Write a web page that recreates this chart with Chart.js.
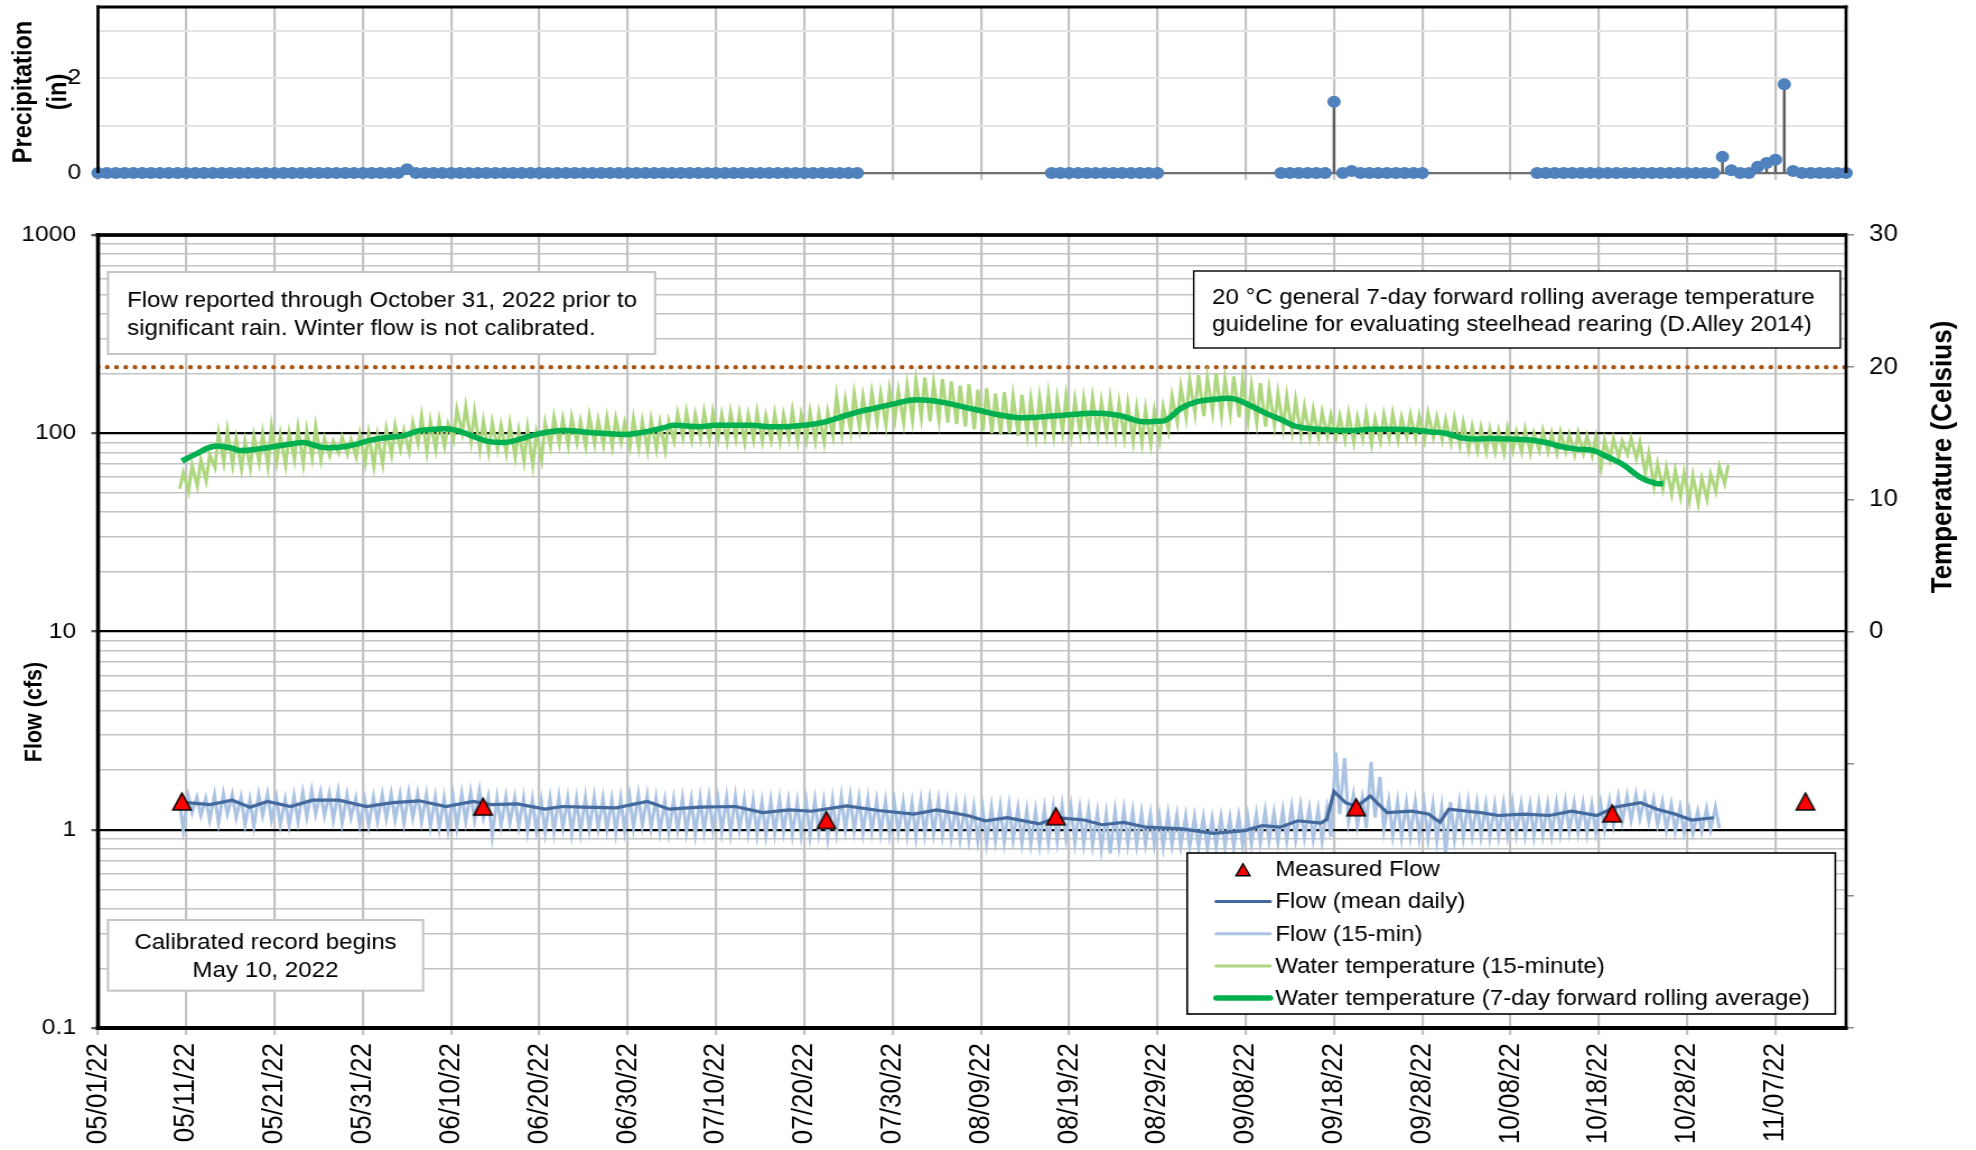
<!DOCTYPE html>
<html>
<head>
<meta charset="utf-8">
<script src="https://cdn.jsdelivr.net/npm/chart.js@4.4.1/dist/chart.umd.min.js"></script>
<style>
  html, body { margin: 0; padding: 0; background: #fff; }
  #wrap { position: relative; width: 1976px; height: 1150px; overflow: hidden; background: #fff; }
  #wrap canvas { position: absolute; left: 0; top: 0; }
</style>
</head>
<body>
<div id="wrap">
  <canvas id="flowChart" width="1764" height="1150" style="width:1976px;height:1150px"></canvas>
  <canvas id="precipChart" width="1764" height="200" style="width:1976px;height:200px"></canvas>
</div>
<script>
// x values are days counted from 05/01/22
const xTickLabels = ['05/01/22', '05/11/22', '05/21/22', '05/31/22', '06/10/22', '06/20/22', '06/30/22',
  '07/10/22', '07/20/22', '07/30/22', '08/09/22', '08/19/22', '08/29/22', '09/08/22', '09/18/22',
  '09/28/22', '10/08/22', '10/18/22', '10/28/22', '11/07/22'];

// daily precipitation (in), day 0 .. 198, null = no record
const precipIn = [
  0, 0, 0, 0, 0, 0, 0, 0, 0, 0,
  0, 0, 0, 0, 0, 0, 0, 0, 0, 0,
  0, 0, 0, 0, 0, 0, 0, 0, 0, 0,
  0, 0, 0, 0, 0, 0.08, 0, 0, 0, 0,
  0, 0, 0, 0, 0, 0, 0, 0, 0, 0,
  0, 0, 0, 0, 0, 0, 0, 0, 0, 0,
  0, 0, 0, 0, 0, 0, 0, 0, 0, 0,
  0, 0, 0, 0, 0, 0, 0, 0, 0, 0,
  0, 0, 0, 0, 0, 0, 0, null, null, null,
  null, null, null, null, null, null, null, null, null, null,
  null, null, null, null, null, null, null, null, 0, 0,
  0, 0, 0, 0, 0, 0, 0, 0, 0, 0,
  0, null, null, null, null, null, null, null, null, null,
  null, null, null, null, 0, 0, 0, 0, 0, 0,
  1.5, 0, 0.04, 0, 0, 0, 0, 0, 0, 0,
  0, null, null, null, null, null, null, null, null, null,
  null, null, null, 0, 0, 0, 0, 0, 0, 0,
  0, 0, 0, 0, 0, 0, 0, 0, 0, 0,
  0, 0, 0, 0, 0.34, 0.06, 0, 0, 0.13, 0.21,
  0.28, 1.87, 0.04, 0, 0, 0, 0, 0, 0
];
const precipLabels = [0, 2];

// measured flow (cfs)
const measuredDay = [9.5, 43.6, 82.5, 108.5, 142.5, 171.5, 193.4];
const measuredCfs = [1.39, 1.31, 1.12, 1.17, 1.30, 1.21, 1.39];

// mean daily flow (cfs)
const flowMeanDay = [10, 12.7, 15.2, 17.2, 19.2, 21.8, 24.3, 27.3, 30.4, 33.4,
  36.4, 39.4, 42.5, 44.5, 47.5, 50.6, 52.6, 55, 58.7, 62.2,
  64.7, 68.2, 72.2, 75.3, 78.3, 80.8, 84.8, 88.4, 92.4, 95,
  98.5, 100.5, 103, 106.6, 108.6, 111.7, 113.7, 116.2, 118.7, 122.8,
  126.3, 129.9, 131.9, 133.9, 135.9, 138.5, 139.2, 140, 141.3, 142.6,
  144.1, 146, 148.8, 150.7, 152, 153, 156.6, 158.6, 161.5, 164.4,
  166.9, 169.8, 171.8, 174.7, 176.6, 178.6, 180.5, 183];
const flowMeanCfs = [1.37, 1.34, 1.41, 1.30, 1.39, 1.31, 1.41, 1.41, 1.31, 1.37,
  1.40, 1.31, 1.39, 1.34, 1.35, 1.27, 1.31, 1.30, 1.29, 1.39,
  1.27, 1.30, 1.31, 1.22, 1.26, 1.24, 1.32, 1.25, 1.20, 1.26,
  1.18, 1.11, 1.15, 1.07, 1.15, 1.12, 1.06, 1.09, 1.03, 1.01,
  0.96, 0.99, 1.05, 1.03, 1.11, 1.08, 1.13, 1.56, 1.37, 1.31,
  1.48, 1.22, 1.24, 1.20, 1.09, 1.27, 1.22, 1.18, 1.20, 1.18,
  1.24, 1.18, 1.30, 1.37, 1.27, 1.20, 1.12, 1.15];

// 15-min flow, daily high / low (cfs), first entry = day 9
const flow15StartDay = 9;
const flow15Hi = [1.42, 1.48, 1.46, 1.44, 1.50, 1.52, 1.50, 1.46, 1.42, 1.50,
  1.52, 1.46, 1.42, 1.48, 1.54, 1.58, 1.55, 1.52, 1.56, 1.50,
  1.44, 1.42, 1.46, 1.50, 1.52, 1.50, 1.54, 1.52, 1.50, 1.46,
  1.44, 1.48, 1.52, 1.54, 1.58, 1.46, 1.44, 1.46, 1.45, 1.44,
  1.42, 1.40, 1.44, 1.46, 1.44, 1.42, 1.45, 1.46, 1.44, 1.42,
  1.44, 1.48, 1.50, 1.48, 1.44, 1.40, 1.42, 1.44, 1.42, 1.44,
  1.46, 1.44, 1.45, 1.46, 1.42, 1.40, 1.38, 1.40, 1.42, 1.40,
  1.38, 1.40, 1.41, 1.38, 1.42, 1.46, 1.47, 1.44, 1.43, 1.40,
  1.39, 1.38, 1.37, 1.36, 1.40, 1.42, 1.40, 1.37, 1.35, 1.33,
  1.30, 1.28, 1.30, 1.31, 1.32, 1.28, 1.25, 1.24, 1.27, 1.30,
  1.32, 1.30, 1.28, 1.26, 1.22, 1.20, 1.24, 1.26, 1.24, 1.22,
  1.20, 1.18, 1.20, 1.18, 1.17, 1.16, 1.15, 1.14, 1.16, 1.15,
  1.17, 1.18, 1.20, 1.24, 1.22, 1.25, 1.30, 1.32, 1.28, 1.26,
  1.28, 2.45, 2.30, 1.50, 1.45, 2.20, 1.85, 1.40, 1.38, 1.36,
  1.38, 1.36, 1.34, 1.30, 1.38, 1.36, 1.38, 1.36, 1.34, 1.33,
  1.35, 1.36, 1.34, 1.33, 1.35, 1.34, 1.36, 1.38, 1.36, 1.35,
  1.34, 1.36, 1.40, 1.46, 1.48, 1.50, 1.47, 1.42, 1.38, 1.34,
  1.30, 1.26, 1.24, 1.28, 1.30];
const flow15Lo = [1.00, 1.22, 1.18, 1.12, 1.08, 1.20, 1.15, 1.06, 1.04, 1.18,
  1.12, 1.06, 1.05, 1.10, 1.16, 1.20, 1.18, 1.12, 1.08, 1.15,
  1.06, 1.05, 1.10, 1.14, 1.12, 1.08, 1.15, 1.10, 1.04, 1.02,
  1.00, 1.03, 1.10, 1.12, 1.15, 0.93, 1.05, 1.08, 1.04, 0.98,
  0.99, 0.97, 0.98, 1.02, 0.96, 0.97, 1.00, 1.02, 1.00, 0.97,
  0.99, 1.03, 1.05, 1.02, 0.98, 0.97, 1.00, 0.98, 0.95, 0.99,
  1.01, 0.98, 0.96, 1.00, 0.97, 0.95, 0.94, 0.96, 0.98, 0.95,
  0.94, 0.93, 0.96, 0.91, 0.97, 1.00, 0.99, 0.97, 0.98, 0.96,
  0.95, 0.96, 0.94, 0.92, 0.95, 0.96, 0.94, 0.92, 0.90, 0.89,
  0.88, 0.86, 0.88, 0.87, 0.89, 0.86, 0.85, 0.84, 0.86, 0.88,
  0.90, 0.86, 0.85, 0.84, 0.80, 0.76, 0.83, 0.85, 0.84, 0.85,
  0.84, 0.82, 0.84, 0.83, 0.82, 0.82, 0.81, 0.82, 0.83, 0.82,
  0.84, 0.85, 0.86, 0.88, 0.87, 0.88, 0.90, 0.92, 0.90, 0.88,
  0.92, 1.20, 1.10, 1.05, 1.02, 1.15, 1.00, 0.94, 0.92, 0.93,
  0.92, 0.90, 0.88, 0.77, 0.90, 0.92, 0.94, 0.93, 0.92, 0.93,
  0.94, 0.95, 0.94, 0.93, 0.95, 0.94, 0.96, 0.98, 0.97, 0.96,
  0.97, 1.00, 1.05, 1.10, 1.12, 1.14, 1.10, 1.06, 1.00, 0.98,
  0.97, 0.96, 0.98, 1.00, 1.02];

// 15-min water temperature, daily high / low (deg C), first entry = day 9
const temp15StartDay = 9;
const temp15Hi = [12.0, 12.6, 13.0, 13.4, 15.0, 15.2, 14.6, 14.4, 14.8, 15.0,
  15.5, 14.9, 15.0, 15.4, 15.2, 15.5, 14.6, 14.4, 14.7, 14.5,
  14.9, 15.0, 14.8, 15.3, 15.6, 15.2, 15.8, 16.3, 15.9, 16.0,
  15.7, 16.8, 17.0, 16.6, 15.9, 15.8, 15.6, 15.7, 15.2, 15.4,
  15.0, 15.8, 16.2, 16.1, 16.2, 15.9, 16.3, 16.0, 16.2, 16.1,
  15.8, 16.1, 15.9, 16.0, 15.8, 15.9, 16.5, 16.6, 16.4, 16.6,
  16.6, 16.4, 16.6, 16.5, 16.4, 16.6, 16.3, 16.5, 16.4, 16.7,
  16.4, 16.6, 16.5, 16.6, 17.8, 17.5, 18.0, 17.8, 18.1, 18.0,
  18.3, 18.2, 18.6, 19.0, 19.2, 18.8, 19.1, 18.9, 18.6, 18.7,
  18.3, 18.4, 18.0, 18.1, 17.8, 17.9, 17.6, 17.7, 17.9, 17.6,
  17.8, 17.5, 17.6, 17.7, 17.4, 17.6, 17.3, 17.2, 16.9, 16.8,
  16.7, 17.0, 17.8, 18.5, 19.0, 19.4, 19.2, 19.5, 19.1, 19.3,
  19.0, 18.6, 18.8, 18.3, 18.0, 17.8, 17.5, 17.0, 16.8, 16.6,
  16.4, 16.3, 16.5, 16.2, 16.5, 16.1, 16.4, 16.5, 16.2, 16.4,
  16.3, 16.5, 16.2, 16.0, 16.1, 15.8, 15.5, 15.4, 15.3, 15.2,
  15.4, 15.1, 15.3, 15.0, 15.2, 15.0, 15.1, 14.9, 15.0, 14.8,
  14.7, 14.5, 14.6, 14.4, 14.6, 14.3, 13.5, 12.7, 12.4, 12.2,
  12.0, 11.8, 11.6, 11.9, 12.5, 12.6];
const temp15Lo = [10.8, 10.6, 11.0, 11.4, 12.4, 12.8, 12.6, 12.3, 12.4, 12.8,
  12.5, 12.9, 12.6, 13.0, 12.7, 13.1, 13.0, 13.3, 13.5, 13.4,
  13.2, 12.8, 12.5, 12.7, 13.4, 13.8, 13.6, 14.2, 13.6, 13.8,
  14.0, 14.5, 15.0, 14.4, 13.8, 13.6, 13.8, 13.5, 13.2, 12.9,
  12.6, 13.0, 14.0, 14.2, 14.1, 14.3, 14.0, 14.2, 14.1, 14.0,
  14.3, 14.0, 13.9, 13.7, 13.8, 13.7, 14.4, 14.7, 14.5, 14.6,
  14.5, 14.6, 14.4, 14.6, 14.3, 14.5, 14.4, 14.5, 14.4, 14.6,
  14.4, 14.5, 14.4, 14.3, 14.8, 15.0, 15.2, 15.4, 15.5, 15.8,
  15.6, 16.0, 15.8, 16.0, 16.2, 15.9, 16.0, 15.8, 15.7, 15.5,
  15.3, 15.2, 15.0, 14.9, 15.0, 14.8, 14.9, 14.8, 15.0, 14.9,
  15.1, 14.9, 15.0, 15.1, 14.9, 15.0, 14.8, 14.7, 14.4, 14.3,
  14.2, 14.5, 15.2, 15.8, 16.2, 16.5, 16.3, 16.6, 16.4, 16.5,
  16.2, 16.0, 15.8, 15.5, 15.6, 15.4, 15.2, 14.9, 14.8, 14.7,
  14.8, 14.7, 14.5, 14.3, 14.6, 14.2, 14.4, 14.6, 14.5, 14.7,
  14.6, 14.5, 14.7, 14.5, 14.3, 14.1, 13.8, 13.7, 13.6, 13.6,
  13.5, 13.7, 13.6, 13.5, 13.7, 13.6, 13.5, 13.6, 13.4, 13.5,
  13.3, 12.4, 13.0, 13.2, 13.4, 13.1, 12.0, 11.0, 10.8, 10.4,
  10.2, 9.9, 9.7, 10.0, 10.6, 11.2];

// 7-day forward rolling average temperature (deg C)
const temp7Day = [9.5, 11, 13, 15, 16, 18, 20, 22, 23.3, 25,
  26, 28, 29.4, 31, 33, 34.5, 36.4, 38, 40, 42,
  44, 46, 47, 49, 51, 53, 55, 57, 59.7, 61,
  62.7, 64, 65.2, 68, 70, 72, 74, 76, 78, 80,
  82, 84, 86, 88, 90, 92, 94, 96, 98, 100,
  102, 104, 106, 108, 110, 112, 114, 116, 118, 120,
  121, 122.7, 124.5, 126.9, 128.7, 130.5, 132.3, 134.1, 135.8, 138.2,
  141.8, 144, 146, 149, 151, 152.6, 155, 158, 162, 164,
  165.7, 167.5, 169.3, 171, 172.8, 174.6, 176.4, 177.3];
const temp7Avg = [12.9, 13.4, 14.0, 13.9, 13.7, 13.8, 14.0, 14.2, 14.3, 14.0,
  13.9, 14.0, 14.2, 14.5, 14.7, 14.8, 15.2, 15.3, 15.3, 14.9,
  14.4, 14.3, 14.4, 14.8, 15.1, 15.2, 15.1, 15.0, 14.9, 15.0,
  15.2, 15.4, 15.6, 15.5, 15.6, 15.6, 15.6, 15.5, 15.5, 15.6,
  15.8, 16.2, 16.6, 16.9, 17.2, 17.5, 17.5, 17.3, 17.0, 16.7,
  16.4, 16.2, 16.2, 16.3, 16.4, 16.5, 16.5, 16.3, 15.9, 15.9,
  16.0, 16.9, 17.4, 17.6, 17.6, 17.1, 16.5, 16.0, 15.5, 15.3,
  15.2, 15.3, 15.3, 15.25, 15.1, 15.0, 14.6, 14.6, 14.5, 14.3,
  14.0, 13.8, 13.7, 13.2, 12.6, 11.7, 11.2, 11.2];

const guidelineTemp = 20;

const noteFlow = ['Flow reported through October 31, 2022 prior to', 'significant rain. Winter flow is not calibrated.'];
const noteGuide = ['20 \u00B0C general 7-day forward rolling average temperature', 'guideline for evaluating steelhead rearing (D.Alley 2014)'];
const noteCal = ['Calibrated record begins', 'May 10, 2022'];

// ---- layout (drawing units; the canvas is stretched 1976/1764 horizontally) ----
const FONT = "'Liberation Sans', Arial, Helvetica, sans-serif";
const W = 1764;
const AREA_L = 87.5, AREA_R = 1648;
const FLOW_TOP = 235, FLOW_BOTTOM = 1028, FLOW_H = 1150;
const P_TOP = 7, P_BOTTOM = 173, P_H = 200;
const X_MAX = 198;

Chart.defaults.font.family = FONT;
Chart.defaults.color = '#000';

const isDecade = v => Math.abs(Math.log10(v) - Math.round(Math.log10(v))) < 1e-9;
const flowGridTicks = [];
[0.1, 1, 10, 100].forEach(dec => { for (let k = 1; k <= 9; k++) flowGridTicks.push(+(dec * k).toPrecision(3)); });
flowGridTicks.push(1000);

// pin axis sizes so the plot areas sit where the original ones are
const fixWidth = w => s => { s.width = w; s.paddingTop = 0; s.paddingBottom = 0; };
const fixHeight = h => s => { s.height = h; s.paddingLeft = 0; s.paddingRight = 0; };

function drawTri(g, cx, cy, w, h, lw) {
  g.beginPath();
  g.moveTo(cx, cy - h / 2);
  g.lineTo(cx + w / 2, cy + h / 2);
  g.lineTo(cx - w / 2, cy + h / 2);
  g.closePath();
  g.fillStyle = '#ff0000';
  g.fill();
  g.lineWidth = lw;
  g.strokeStyle = '#000';
  g.stroke();
}
function makeTriangle(w, h) {
  const c = document.createElement('canvas');
  c.width = Math.ceil(w + 4);
  c.height = Math.ceil(h + 4);
  drawTri(c.getContext('2d'), c.width / 2, c.height / 2, w, h, 1.5);
  return c;
}

function pairSeries(start, first, second, t1, t2) {
  const pts = [];
  first.forEach((v, i) => {
    pts.push({ x: start + i + t1, y: v });
    pts.push({ x: start + i + t2, y: second[i] });
  });
  return pts;
}

const precipPts = [];
precipIn.forEach((v, d) => { if (v !== null) precipPts.push({ x: d, y: v }); });

function drawNote(ctx, x0, y0, x1, y1, stroke, lw, lines, align, tx, baselines) {
  ctx.fillStyle = '#fff';
  ctx.fillRect(x0, y0, x1 - x0, y1 - y0);
  ctx.strokeStyle = stroke;
  ctx.lineWidth = lw;
  ctx.strokeRect(x0, y0, x1 - x0, y1 - y0);
  ctx.fillStyle = '#000';
  ctx.font = '21.5px ' + FONT;
  ctx.textAlign = align;
  ctx.textBaseline = 'alphabetic';
  lines.forEach((t, i) => ctx.fillText(t, tx, baselines[i]));
}

function vText(ctx, text, cx, cy, size) {
  ctx.save();
  ctx.translate(cx, cy);
  ctx.rotate(-Math.PI / 2);
  ctx.font = 'bold ' + size + 'px ' + FONT;
  ctx.fillStyle = '#000';
  ctx.textAlign = 'center';
  ctx.textBaseline = 'middle';
  ctx.fillText(text, 0, 0);
  ctx.restore();
}

const legendOrder = ['Measured Flow', 'Flow (mean daily)', 'Flow (15-min)',
  'Water temperature (15-minute)', 'Water temperature (7-day forward rolling average)'];

const flowDecor = {
  id: 'flowDecor',
  afterDatasetsDraw(chart) {
    const ctx = chart.ctx, a = chart.chartArea;
    ctx.save();
    drawNote(ctx, 96.4, 272, 584.8, 354, '#c4c4c4', 2, noteFlow, 'left', 113.4, [306.5, 334.5]);
    drawNote(ctx, 1065.6, 271, 1642.9, 348, '#000', 1.4, noteGuide, 'left', 1082, [303.5, 331]);
    drawNote(ctx, 96.4, 920, 377.7, 990.7, '#c4c4c4', 2, noteCal, 'center', 237, [949.3, 977.3]);

    // legend
    const lx0 = 1059.8, ly0 = 853, lx1 = 1638.4, ly1 = 1014;
    ctx.fillStyle = '#fff';
    ctx.fillRect(lx0, ly0, lx1 - lx0, ly1 - ly0);
    ctx.strokeStyle = '#000';
    ctx.lineWidth = 1.6;
    ctx.strokeRect(lx0, ly0, lx1 - lx0, ly1 - ly0);
    const baseY = [876, 908.3, 940.5, 972.7, 1004.7];
    legendOrder.forEach((label, i) => {
      const ds = chart.data.datasets.find(d => d.label === label);
      const y = baseY[i] - 6.8;
      if (ds.showLine === false) {
        drawTri(ctx, 1109.6, y + 0.5, 12.5, 12, 1.4);
      } else {
        ctx.beginPath();
        ctx.moveTo(1085.7, y);
        ctx.lineTo(1133.9, y);
        ctx.strokeStyle = ds.borderColor;
        ctx.lineWidth = ds.borderWidth;
        ctx.lineCap = 'round';
        ctx.stroke();
      }
      ctx.fillStyle = '#000';
      ctx.font = '21.5px ' + FONT;
      ctx.textAlign = 'left';
      ctx.textBaseline = 'alphabetic';
      ctx.fillText(label, 1138.4, baseY[i]);
    });

    // frame
    ctx.fillStyle = '#000';
    ctx.fillRect(a.left - 1.8, a.top - 1.85, a.right - a.left + 1.8, 3.7);
    ctx.fillRect(a.left - 1.8, a.top - 1.85, 3.6, a.bottom - a.top + 3.85);
    ctx.fillRect(a.left - 1.8, a.bottom - 2, a.right - a.left + 3.2, 4);
    ctx.fillRect(a.right - 1.35, a.top - 1.85, 2.7, a.bottom - a.top + 3.85);
    ctx.restore();
  },
  afterDraw(chart) {
    const ctx = chart.ctx;
    vText(ctx, 'Flow (cfs)', 30.8, 712, 21.5);
    vText(ctx, 'Temperature (Celsius)', 1734.8, 457, 26);
  }
};

const precipDecor = {
  id: 'precipDecor',
  afterDatasetsDraw(chart) {
    const ctx = chart.ctx, a = chart.chartArea;
    ctx.save();
    ctx.fillStyle = '#000';
    ctx.fillRect(a.left - 1.35, a.top - 1.5, a.right - a.left + 2.7, 3);
    ctx.fillRect(a.left - 1.35, a.top - 1.5, 2.7, a.bottom - a.top + 1.5);
    ctx.fillRect(a.right - 1.35, a.top - 1.5, 2.7, a.bottom - a.top + 1.5);
    ctx.restore();
  },
  afterDraw(chart) {
    const ctx = chart.ctx;
    vText(ctx, 'Precipitation', 21.4, 92, 23.5);
    vText(ctx, '(in)', 52.5, 92, 23.5);
  }
};

// ---- flow / temperature panel ----
new Chart(document.getElementById('flowChart'), {
  type: 'line',
  data: {
    datasets: [
      {
        label: 'Measured Flow', type: 'line', showLine: false, yAxisID: 'y',
        data: measuredDay.map((d, i) => ({ x: d, y: measuredCfs[i] })),
        pointStyle: makeTriangle(16.4, 16.8), pointRadius: 9, order: 0
      },
      {
        label: 'Flow (mean daily)', yAxisID: 'y',
        data: flowMeanDay.map((d, i) => ({ x: d, y: flowMeanCfs[i] })),
        borderColor: '#44699d', borderWidth: 3.2, pointRadius: 0, tension: 0, order: 1
      },
      {
        label: 'Flow (15-min)', yAxisID: 'y',
        data: pairSeries(flow15StartDay, flow15Hi, flow15Lo, 0.2, 0.65),
        borderColor: '#abc3e2', borderWidth: 3, pointRadius: 0, tension: 0, order: 2
      },
      {
        label: 'Water temperature (15-minute)', yAxisID: 'y2',
        data: pairSeries(temp15StartDay, temp15Lo, temp15Hi, 0.25, 0.65),
        borderColor: '#add67f', borderWidth: 3, pointRadius: 0, tension: 0, order: 3
      },
      {
        label: 'Water temperature (7-day forward rolling average)', yAxisID: 'y2',
        data: temp7Day.map((d, i) => ({ x: d, y: temp7Avg[i] })),
        borderColor: '#00b050', borderWidth: 5.5, pointRadius: 0, tension: 0.4, order: 1
      },
      {
        label: 'Guideline', yAxisID: 'y2',
        data: [{ x: 0, y: guidelineTemp }, { x: X_MAX, y: guidelineTemp }],
        borderColor: '#a9530f', borderWidth: 4.4, borderDash: [0, 8.25], borderCapStyle: 'round',
        pointRadius: 0, order: 4
      }
    ]
  },
  options: {
    responsive: false, animation: false, devicePixelRatio: 1,
    layout: { padding: { top: FLOW_TOP, left: 0, right: 0, bottom: 0 } },
    plugins: { legend: { display: false }, tooltip: { enabled: false } },
    scales: {
      x: {
        type: 'linear', min: 0, max: X_MAX, offset: false,
        afterFit: fixHeight(FLOW_H - FLOW_BOTTOM),
        grid: { offset: false, color: '#c3c3c3', lineWidth: 2.2, tickLength: 7, drawTicks: true },
        border: { display: false },
        ticks: {
          stepSize: 10, includeBounds: false, autoSkip: false, minRotation: 90, maxRotation: 90,
          padding: 8, font: { size: 26 }, color: '#000',
          callback: v => xTickLabels[Math.round(v / 10)]
        }
      },
      y: {
        type: 'logarithmic', position: 'left', min: 0.1, max: 1000,
        afterFit: fixWidth(AREA_L),
        afterBuildTicks: s => { s.ticks = flowGridTicks.map(v => ({ value: v, major: isDecade(v) })); },
        grid: {
          color: c => isDecade(c.tick.value) ? '#000' : '#c3c3c3',
          lineWidth: c => isDecade(c.tick.value) ? 2.3 : 1.6,
          tickColor: c => isDecade(c.tick.value) ? '#555' : 'rgba(0,0,0,0)',
          tickLength: 6
        },
        border: { display: false },
        ticks: {
          autoSkip: false, padding: 13.6, font: { size: 22 }, color: '#000',
          callback: v => isDecade(v) ? String(v) : ''
        }
      },
      y2: {
        type: 'linear', position: 'right', min: -30, max: 30,
        afterFit: fixWidth(W - AREA_R),
        grid: { drawOnChartArea: false, color: '#8a8a8a', lineWidth: 1.5, tickLength: 7 },
        border: { display: false },
        ticks: {
          stepSize: 10, padding: 13.6, font: { size: 23 }, color: '#000',
          callback: v => v >= 0 ? String(v) : ''
        }
      }
    }
  },
  plugins: [flowDecor]
});

// ---- precipitation panel ----
new Chart(document.getElementById('precipChart'), {
  type: 'line',
  data: {
    datasets: [
      {
        label: 'Precipitation', showLine: false,
        data: precipPts.map(p => ({ x: p.x, y: p.y })),
        pointRadius: 6, pointBackgroundColor: '#4f81bd', pointBorderColor: '#4f81bd', pointBorderWidth: 0,
        clip: false, order: 0
      },
      {
        label: 'Precipitation drop lines', type: 'bar',
        data: precipPts.map(p => ({ x: p.x, y: p.y })),
        backgroundColor: '#5b5b5b', barThickness: 1.8, clip: false, order: 1
      }
    ]
  },
  options: {
    responsive: false, animation: false, devicePixelRatio: 1,
    layout: { padding: { top: P_TOP, left: 0, right: W - AREA_R, bottom: 0 } },
    plugins: { legend: { display: false }, tooltip: { enabled: false } },
    scales: {
      x: {
        type: 'linear', min: 0, max: X_MAX, offset: false,
        afterFit: fixHeight(P_H - P_BOTTOM),
        grid: { offset: false, color: '#c3c3c3', lineWidth: 2.2, tickLength: 7, drawTicks: true },
        border: { display: true, color: '#6e6e6e', width: 2.2 },
        ticks: { stepSize: 10, includeBounds: false, autoSkip: false, display: false }
      },
      y: {
        type: 'linear', min: 0, max: 3.5,
        afterFit: fixWidth(AREA_L),
        grid: { color: '#e4e4e4', lineWidth: 2, drawTicks: false },
        border: { display: false },
        ticks: {
          stepSize: 0.5, padding: 15, font: { size: 22 }, color: '#000',
          callback: v => precipLabels.includes(v) ? String(v) : ''
        }
      }
    }
  },
  plugins: [precipDecor]
});
</script>
</body>
</html>
